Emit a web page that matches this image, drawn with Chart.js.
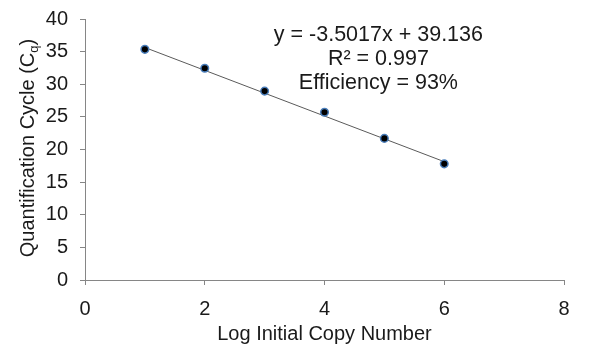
<!DOCTYPE html>
<html>
<head>
<meta charset="utf-8">
<script src="https://cdn.jsdelivr.net/npm/chart.js@4/dist/chart.umd.min.js"></script>
<style>
html,body{margin:0;padding:0;background:#fff;}
#wrap{width:600px;height:345px;}
</style>
</head>
<body>
<div id="wrap"><canvas id="c" width="600" height="345"></canvas></div>
<script>
// Data
const logCopy = [1, 2, 3, 4, 5, 6];
const cqValues = [35.35, 32.45, 28.95, 25.7, 21.7, 17.8];
const trendX = [1, 6];
const trendY = [35.63, 18.13];
const xTicks = [0, 2, 4, 6, 8];
const yTicks = [0, 5, 10, 15, 20, 25, 30, 35, 40];
const annotationLines = ["y = -3.5017x + 39.136", "R\u00B2 = 0.997", "Efficiency = 93%"];
const annotationAnchor = {x: 4.9, y: [37.55, 33.87, 30.19]};

const FONT = "'Liberation Sans', Arial, sans-serif";
const TXT = '#1a1a1a';
const AXIS = '#868686';

const overlay = {
  id: 'overlay',
  afterDraw(chart) {
    const ctx = chart.ctx;
    const xs = chart.scales.x, ys = chart.scales.y;
    ctx.save();
    ctx.fillStyle = TXT;
    ctx.font = '21.5px ' + FONT;
    ctx.textAlign = 'center';
    ctx.textBaseline = 'middle';
    annotationLines.forEach((t, i) => {
      ctx.fillText(t, xs.getPixelForValue(annotationAnchor.x), ys.getPixelForValue(annotationAnchor.y[i]));
    });
    // Y axis title with subscript q
    const cy = 148;
    ctx.translate(27, cy);
    ctx.rotate(-Math.PI / 2);
    const main = 'Quantification Cycle (C';
    const sub = 'q';
    const close = ')';
    ctx.font = '20px ' + FONT;
    const wMain = ctx.measureText(main).width;
    const wClose = ctx.measureText(close).width;
    ctx.font = '13px ' + FONT;
    const wSub = ctx.measureText(sub).width;
    const total = wMain + wSub + wClose;
    let x0 = -total / 2;
    ctx.textAlign = 'left';
    ctx.textBaseline = 'alphabetic';
    ctx.font = '20px ' + FONT;
    ctx.fillText(main, x0, 7);
    ctx.font = '13px ' + FONT;
    ctx.fillText(sub, x0 + wMain, 11);
    ctx.font = '20px ' + FONT;
    ctx.fillText(close, x0 + wMain + wSub, 7);
    ctx.restore();
  }
};

new Chart(document.getElementById('c'), {
  type: 'scatter',
  data: {
    datasets: [
      {
        type: 'line',
        data: trendX.map((x, i) => ({x: x, y: trendY[i]})),
        borderColor: '#5a5a5a',
        borderWidth: 1,
        pointRadius: 0,
        fill: false,
        order: 2
      },
      {
        data: logCopy.map((x, i) => ({x: x, y: cqValues[i]})),
        backgroundColor: '#000000',
        borderColor: '#4a7ebb',
        borderWidth: 1.5,
        pointRadius: 3.8,
        order: 1
      }
    ]
  },
  plugins: [overlay],
  options: {
    responsive: false,
    animation: false,
    layout: {padding: {top: 19, right: 36, left: 0, bottom: 0}},
    plugins: {legend: {display: false}, tooltip: {enabled: false}},
    scales: {
      x: {
        type: 'linear',
        min: 0, max: 8,
        afterBuildTicks(s) { s.ticks = xTicks.map(v => ({value: v})); },
        afterFit(s) { s.height = 65; s.paddingLeft = 0; s.paddingRight = 0; },
        grid: {drawOnChartArea: false, color: AXIS, tickLength: 5, tickColor: AXIS},
        border: {color: AXIS, width: 1},
        ticks: {color: TXT, font: {family: FONT, size: 20}, padding: 12, maxRotation: 0},
        title: {display: true, text: 'Log Initial Copy Number', color: TXT, font: {family: FONT, size: 20}, padding: {top: 7, bottom: -1}}
      },
      y: {
        type: 'linear',
        min: 0, max: 40,
        afterBuildTicks(s) { s.ticks = yTicks.map(v => ({value: v})); },
        afterFit(s) { s.width = 85; s.paddingTop = 0; s.paddingBottom = 0; },
        grid: {drawOnChartArea: false, color: AXIS, tickLength: 5, tickColor: AXIS},
        border: {color: AXIS, width: 1},
        ticks: {color: TXT, font: {family: FONT, size: 20}, padding: 12}
      }
    }
  }
});
</script>
</body>
</html>
